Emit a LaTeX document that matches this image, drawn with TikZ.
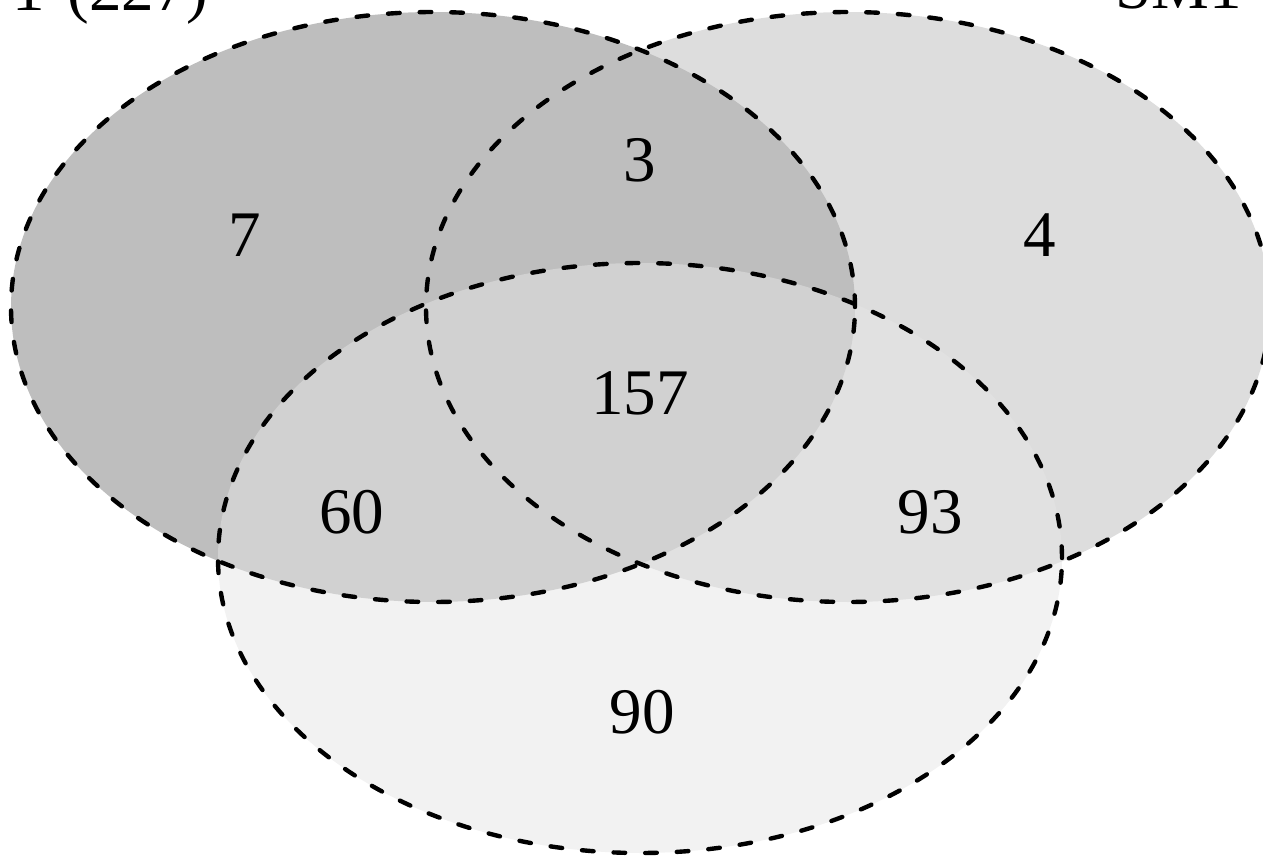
\documentclass[tikz,border=0pt]{standalone}
\usepackage{fontspec}
\setmainfont{Liberation Serif}
\definecolor{setA}{gray}{0.745}
\definecolor{setB}{gray}{0.867}
\definecolor{setC}{gray}{0.898}
\begin{document}
\begin{tikzpicture}[
  outline/.style={draw=black, line width=1.25pt, line cap=round, dash pattern=on 3.3pt off 5.7pt},
  num/.style={font=\fontsize{18.5}{22}\selectfont, inner sep=0pt},
  lbl/.style={font=\fontsize{18.5}{22}\selectfont, inner sep=0pt}
]
\useasboundingbox (0,0) rectangle (12.63,8.56);
% fills
\fill[setB] (8.48,5.49) ellipse [x radius=4.22, y radius=2.95];
\fill[setA] (4.33,5.49) ellipse [x radius=4.22, y radius=2.95];
\fill[setC, fill opacity=0.5] (6.40,2.98) ellipse [x radius=4.22, y radius=2.95];
% outlines
\draw[outline] (4.33,5.49) ellipse [x radius=4.22, y radius=2.95];
\draw[outline] (8.48,5.49) ellipse [x radius=4.22, y radius=2.95];
\draw[outline] (6.40,2.98) ellipse [x radius=4.22, y radius=2.95];
% numbers
\node[num] (n7) at (2.45,6.21) {7};
\node[num] (n3) at (6.40,6.96) {3};
\node[num] (n4) at (10.40,6.21) {4};
\node[num] (n157) at (6.40,4.63) {157};
\node[num] (n60) at (3.52,3.44) {60};
\node[num] (n93) at (9.30,3.44) {93};
\node[num] (n90) at (6.42,1.44) {90};
% set labels (cut by the page edge, as in the reference)
\node[lbl, anchor=base east] (labA) at (2.09,8.46) {1\hspace{0.35em}(227)};
\node[lbl, anchor=base west] (labB) at (11.15,8.48) {SM1};
\end{tikzpicture}
\end{document}
